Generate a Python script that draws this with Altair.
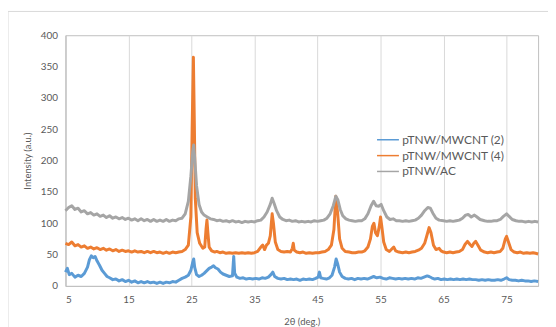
import altair as alt
import pandas as pd

series_names = ["pTNW/MWCNT (2)", "pTNW/MWCNT (4)", "pTNW/AC"]
series_colors = ["#5B9BD5", "#ED7D31", "#A5A5A5"]

x_ticks = [5, 15, 25, 35, 45, 55, 65, 75]
y_ticks = [0, 50, 100, 150, 200, 250, 300, 350, 400]

# pTNW/AC (gray)
ac_x = [5.0, 5.5, 6.0, 6.5, 7.0, 7.5, 8.0, 8.5, 9.0, 9.5, 10.0, 10.5, 11.0, 11.5, 12.0, 12.5, 13.0, 13.5,
        14.0, 14.5, 15.0, 15.5, 16.0, 16.5, 17.0, 17.5, 18.0, 18.5, 19.0, 19.5, 20.0, 20.5, 21.0, 21.5,
        22.0, 22.5, 23.0, 23.5, 24.0, 24.5, 24.9, 25.2, 25.35, 25.5, 25.8, 26.2, 26.6, 27.0, 27.5, 28.0,
        28.5, 29.0, 29.5, 30.0, 30.5, 31.0, 31.5, 32.0, 32.5, 33.0, 33.5, 34.0, 34.5, 35.0, 35.5, 36.0,
        36.5, 37.0, 37.5, 37.8, 38.1, 38.5, 39.0, 39.5, 40.0, 40.5, 41.0, 41.5, 42.0, 42.5, 43.0, 43.5,
        44.0, 44.5, 45.0, 45.5, 46.0, 46.5, 47.0, 47.5, 47.9, 48.2, 48.6, 49.0, 49.5, 50.0, 50.5, 51.0,
        51.5, 52.0, 52.5, 53.0, 53.5, 53.9, 54.3, 54.7, 55.1, 55.5, 56.0, 56.5, 57.0, 57.5, 58.0, 58.5,
        59.0, 59.5, 60.0, 60.5, 61.0, 61.5, 62.0, 62.5, 62.9, 63.3, 63.8, 64.3, 65.0, 65.5, 66.0, 66.5,
        67.0, 67.5, 68.0, 68.5, 68.9, 69.4, 69.9, 70.3, 70.8, 71.5, 72.0, 72.5, 73.0, 73.5, 74.0, 74.5,
        75.0, 75.4, 75.9, 76.5, 77.0, 77.5, 78.0, 78.5, 79.0, 79.5, 80.0]
ac_y = [120, 125, 128, 122, 124, 118, 120, 115, 117, 113, 115, 111, 113, 109, 112, 108, 110, 107,
        109, 106, 108, 105, 107, 104, 107, 104, 106, 103, 106, 103, 105, 103, 106, 103,
        105, 104, 107, 108, 115, 135, 175, 215, 225, 205, 160, 130, 118, 113, 110, 107,
        106, 104, 105, 103, 104, 102, 104, 102, 103, 101, 103, 102, 103, 102, 104, 105,
        110, 118, 130, 140, 132, 120, 110, 106, 104, 105, 103, 104, 102, 103, 102, 103,
        102, 104, 103, 104, 105, 108, 115, 128, 143, 138, 122, 112, 107, 105, 104, 103,
        104, 104, 107, 115, 128, 135, 128, 127, 130, 120, 110, 106, 107, 104, 104, 103,
        104, 103, 104, 105, 108, 113, 120, 125, 124, 116, 108, 105, 104, 103, 104, 103,
        104, 105, 108, 113, 114, 110, 113, 110, 106, 104, 103, 103, 104, 104, 106, 111,
        115, 111, 106, 104, 103, 103, 102, 103, 102, 103, 102]

# pTNW/MWCNT (4) (orange)
m4_x = [5.0, 5.5, 6.0, 6.5, 7.0, 7.5, 8.0, 8.5, 9.0, 9.5, 10.0, 10.5, 11.0, 11.5, 12.0, 12.5, 13.0, 13.5,
        14.0, 14.5, 15.0, 15.5, 16.0, 16.5, 17.0, 17.5, 18.0, 18.5, 19.0, 19.5, 20.0, 20.5, 21.0, 21.5,
        22.0, 22.5, 23.0, 23.5, 24.0, 24.5, 24.9, 25.1, 25.3, 25.45, 25.6, 25.9, 26.3, 26.8, 27.1, 27.3,
        27.45, 27.6, 27.8, 28.2, 28.7, 29.0, 29.5, 30.0, 30.5, 31.0, 31.5, 32.0, 32.5, 33.0, 33.5, 34.0,
        34.5, 35.0, 35.5, 36.0, 36.3, 36.6, 36.9, 37.2, 37.5, 37.8, 38.0, 38.3, 38.7, 39.2, 39.7, 40.2,
        40.7, 41.0, 41.15, 41.3, 41.7, 42.2, 42.7, 43.2, 43.7, 44.2, 44.7, 45.2, 45.7, 46.2, 46.7, 47.2,
        47.6, 47.9, 48.2, 48.5, 48.9, 49.4, 50.0, 50.5, 51.0, 51.5, 52.0, 52.5, 53.0, 53.4, 53.7, 53.95,
        54.2, 54.5, 54.8, 55.0, 55.2, 55.5, 55.9, 56.4, 56.9, 57.1, 57.4, 57.9, 58.5, 59.0, 59.5, 60.0,
        60.5, 61.0, 61.5, 62.0, 62.4, 62.7, 63.0, 63.4, 63.8, 64.3, 64.6, 65.0, 65.5, 66.0, 66.5, 67.0,
        67.5, 68.0, 68.4, 68.8, 69.2, 69.5, 69.8, 70.1, 70.5, 70.9, 71.5, 72.0, 72.5, 73.0, 73.5, 74.0,
        74.4, 74.8, 75.0, 75.3, 75.7, 76.2, 76.7, 77.2, 77.7, 78.2, 78.7, 79.2, 79.6, 80.0]
m4_y = [68, 66, 70, 64, 66, 62, 64, 60, 62, 59, 61, 58, 60, 57, 59, 56, 58, 55,
        57, 55, 56, 54, 56, 54, 55, 53, 55, 53, 55, 53, 54, 52, 54, 52,
        54, 53, 54, 55, 58, 65, 110, 250, 365, 260, 140, 85, 68, 60, 62, 90,
        105, 85, 62, 56, 54, 55, 53, 54, 52, 53, 52, 53, 52, 53, 52, 53,
        52, 53, 55, 62, 65, 58, 65, 68, 80, 115, 100, 70, 58, 55, 54, 55,
        54, 60, 68, 57, 54, 53, 54, 52, 53, 52, 53, 53, 54, 55, 58, 65,
        90, 143, 115, 75, 60, 55, 54, 53, 53, 54, 54, 56, 62, 75, 95, 100,
        85, 80, 95, 110, 95, 70, 58, 55, 60, 62, 56, 54, 53, 54, 53, 54,
        55, 57, 60, 68, 82, 93, 85, 65, 58, 60, 56, 54, 53, 54, 53, 54,
        55, 58, 66, 71, 66, 63, 68, 71, 64, 57, 54, 53, 54, 53, 54, 55,
        60, 75, 79, 70, 58, 54, 53, 54, 52, 53, 52, 53, 52, 51]

# pTNW/MWCNT (2) (blue)
m2_x = [5.0, 5.3, 5.6, 6.0, 6.5, 7.0, 7.5, 8.0, 8.5, 8.8, 9.1, 9.4, 9.7, 10.0, 10.4, 10.8, 11.2, 11.6,
        12.0, 12.5, 13.0, 13.5, 14.0, 14.5, 15.0, 15.5, 16.0, 16.5, 17.0, 17.5, 18.0, 18.5, 19.0, 19.5,
        20.0, 20.5, 21.0, 21.5, 22.0, 22.5, 23.0, 23.5, 24.0, 24.5, 24.9, 25.2, 25.35, 25.5, 25.8, 26.2,
        26.6, 27.0, 27.4, 27.8, 28.2, 28.5, 28.8, 29.2, 29.6, 30.0, 30.5, 31.0, 31.5, 31.7, 31.85, 32.2,
        32.7, 33.2, 33.7, 34.2, 34.7, 35.2, 35.7, 36.2, 36.7, 37.2, 37.6, 37.9, 38.2, 38.7, 39.2, 39.7,
        40.2, 40.7, 41.2, 41.7, 42.2, 42.7, 43.2, 43.7, 44.2, 44.7, 45.1, 45.3, 45.5, 45.9, 46.4, 46.9,
        47.3, 47.7, 47.95, 48.2, 48.5, 48.9, 49.4, 49.9, 50.4, 50.9, 51.4, 51.9, 52.4, 52.9, 53.4, 53.9,
        54.4, 54.9, 55.4, 55.9, 56.4, 56.9, 57.4, 57.9, 58.4, 58.9, 59.4, 59.9, 60.4, 60.9, 61.4, 61.9,
        62.4, 62.7, 63.1, 63.6, 64.1, 64.6, 65.1, 65.6, 66.1, 66.6, 67.1, 67.6, 68.1, 68.6, 69.1, 69.6,
        70.1, 70.6, 71.1, 71.6, 72.1, 72.6, 73.1, 73.6, 74.1, 74.6, 75.0, 75.4, 75.9, 76.4, 76.9, 77.4,
        77.9, 78.4, 78.9, 79.4, 80.0]
m2_y = [22, 28, 18, 20, 14, 17, 15, 20, 30, 42, 48, 45, 47, 40, 33, 25, 20, 15,
        13, 10, 11, 8, 10, 7, 9, 6, 8, 5, 7, 5, 7, 5, 6, 4,
        6, 4, 6, 5, 7, 6, 9, 12, 14, 17, 25, 38, 43, 30, 18, 15,
        17, 20, 24, 28, 30, 32, 29, 27, 22, 19, 17, 15, 16, 47, 20, 14,
        12, 13, 11, 12, 11, 12, 11, 13, 12, 14, 18, 22, 15, 12, 11, 12,
        10, 11, 10, 11, 9, 11, 10, 11, 10, 12, 14, 22, 13, 12, 11, 13,
        17, 30, 43, 35, 22, 15, 12, 11, 12, 10, 12, 11, 12, 11, 13, 15,
        13, 14, 12, 11, 13, 12, 11, 12, 11, 12, 11, 12, 11, 13, 12, 14,
        16, 15, 13, 11, 12, 10, 11, 10, 11, 10, 11, 10, 11, 10, 11, 10,
        10, 9, 10, 9, 10, 9, 9, 10, 9, 11, 13, 10, 9, 9, 8, 9,
        8, 8, 7, 8, 7]

frames = []
for name, xs, ys in [(series_names[0], m2_x, m2_y), (series_names[1], m4_x, m4_y), (series_names[2], ac_x, ac_y)]:
    frames.append(pd.DataFrame({"angle": xs, "intensity": ys, "series": name}))

FONT = "Lato"
GRAY_TXT = "#595959"

color_scale = alt.Scale(domain=series_names, range=series_colors)

x_enc = alt.X("angle:Q", scale=alt.Scale(domain=[5, 80], nice=False, zero=False),
              axis=alt.Axis(values=x_ticks, title="2θ (deg.)", grid=True, gridColor="#d9d9d9",
                            ticks=False, labelPadding=9, titlePadding=12, domainColor="#bfbfbf"))
y_enc = alt.Y("intensity:Q", scale=alt.Scale(domain=[0, 400], nice=False),
              axis=alt.Axis(values=y_ticks, title="Intensity (a.u.)", grid=False,
                            ticks=False, labelPadding=8, titlePadding=8, domainColor="#bfbfbf"))

layers = []
for i, df in enumerate(frames):
    layers.append(
        alt.Chart(df).mark_line(strokeWidth=3, strokeJoin="round").encode(
            x=x_enc, y=y_enc,
            color=alt.Color("series:N", scale=color_scale,
                            legend=alt.Legend(title=None, orient="none", legendX=316, legendY=96,
                                              symbolType="M-1.3,0H1.3", symbolSize=289,
                                              symbolStrokeWidth=1.5, rowPadding=0,
                                              labelFontSize=12, labelColor=GRAY_TXT, labelFont=FONT,
                                              labelOffset=5))
        )
    )

frame_top = alt.Chart(pd.DataFrame({"k": [0]})).mark_rule(color="#d9d9d9", strokeWidth=1).encode(
    x=alt.value(-58), x2=alt.value(540), y=alt.value(-24))
frame_left = alt.Chart(pd.DataFrame({"k": [0]})).mark_rule(color="#d9d9d9", strokeWidth=1).encode(
    x=alt.value(-58), y=alt.value(-24), y2=alt.value(300))

chart = alt.layer(frame_top, frame_left, *layers).properties(
    width=477, height=253,
    autosize=alt.AutoSizeParams(type="none"),
    padding={"left": 58, "top": 26, "right": 10, "bottom": 40},
).configure_view(stroke="#bfbfbf", strokeWidth=1).configure_axis(
    labelFont=FONT, titleFont=FONT, labelColor=GRAY_TXT, titleColor=GRAY_TXT,
    labelFontSize=10, titleFontSize=9.5, titleFontWeight="normal"
)

chart.save("out.html", embed_options={"renderer": "svg", "actions": False})
